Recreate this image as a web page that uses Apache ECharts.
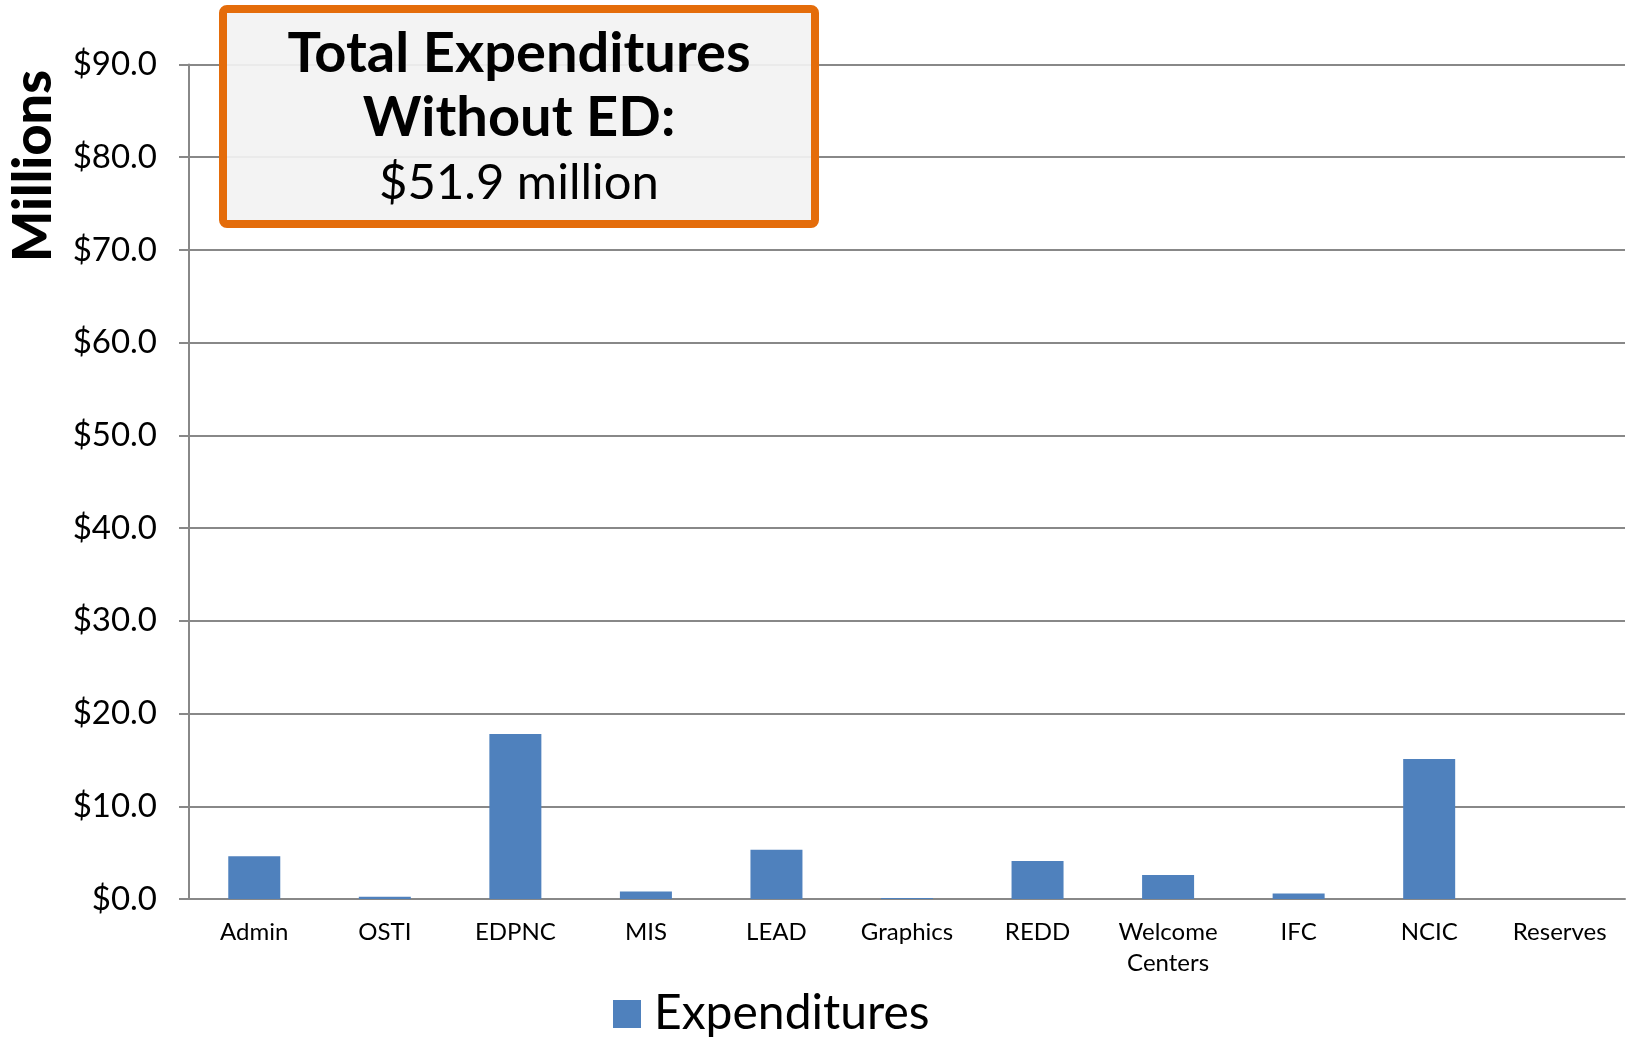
<!DOCTYPE html>
<html>
<head>
<meta charset="utf-8">
<script src="https://cdn.jsdelivr.net/npm/echarts@6/dist/echarts.min.js"></script>
<style>
  html,body{margin:0;padding:0;background:#fff}
  #chart{width:1631px;height:1038px}
</style>
</head>
<body>
<div id="chart"></div>
<script>
  // categories / values (millions)
  var categories = ['Admin','OSTI','EDPNC','MIS','LEAD','Graphics','REDD','Welcome\nCenters','IFC','NCIC','Reserves']
  var expenditures = [4.6, 0.25, 17.8, 0.8, 5.3, 0.12, 4.1, 2.6, 0.6, 15.1, 0]
  var boxLines = ['Total Expenditures','Without ED:','$51.9 million']

  var font = 'Lato, "Open Sans", sans-serif'
  var chart = echarts.init(document.getElementById('chart'))
  chart.setOption({
    animation:false,
    textStyle:{ fontFamily:font },
    grid:{ left:189, right:6, top:64.5, bottom:139 },
    legend:{
      left:608, top:985,
      itemWidth:28, itemHeight:28, itemGap:10,
      icon:'rect',
      textStyle:{ fontSize:48, color:'#000', fontFamily:font, padding:[0,0,0,8] }
    },
    xAxis:{
      type:'category',
      data:categories,
      axisLine:{ lineStyle:{ color:'#888', width:2 } },
      axisTick:{ alignWithLabel:false, length:10, lineStyle:{ color:'#888', width:2 } },
      axisLabel:{ fontSize:24, color:'#000', margin:18, lineHeight:31, interval:0 }
    },
    yAxis:{
      type:'value',
      min:0, max:90, interval:10,
      axisLine:{ show:true, lineStyle:{ color:'#888', width:2 } },
      axisTick:{ show:true, length:10, lineStyle:{ color:'#888', width:2 } },
      splitLine:{ lineStyle:{ color:'#888', width:2 } },
      axisLabel:{ fontSize:33, color:'#000', margin:32,
        formatter:function(v){ return '$' + v.toFixed(1) } }
    },
    series:[{
      name:'Expenditures',
      type:'bar',
      data:expenditures,
      barWidth:52,
      itemStyle:{ color:'#4F81BD' }
    }],
    graphic:[
      {
        type:'text', x:34, y:166, rotation:Math.PI/2,
        style:{ text:'Millions', font:'900 54px ' + font, fill:'#000',
          textAlign:'center', textVerticalAlign:'middle' }
      },
      {
        type:'rect', shape:{ x:223, y:9, width:592, height:215, r:4 },
        style:{ fill:'rgba(242,242,242,0.92)', stroke:'#E46C0A', lineWidth:8 },
        z:100
      },
      {
        type:'text', x:519, y:54, z:101,
        style:{ text:boxLines[0], font:'bold 56px ' + font, fill:'#000',
          textAlign:'center', textVerticalAlign:'middle' }
      },
      {
        type:'text', x:519, y:118, z:101,
        style:{ text:boxLines[1], font:'bold 56px ' + font, fill:'#000',
          textAlign:'center', textVerticalAlign:'middle' }
      },
      {
        type:'text', x:519, y:183, z:101,
        style:{ text:boxLines[2], font:'49px ' + font, fill:'#000',
          textAlign:'center', textVerticalAlign:'middle' }
      }
    ]
  })
</script>
</body>
</html>
